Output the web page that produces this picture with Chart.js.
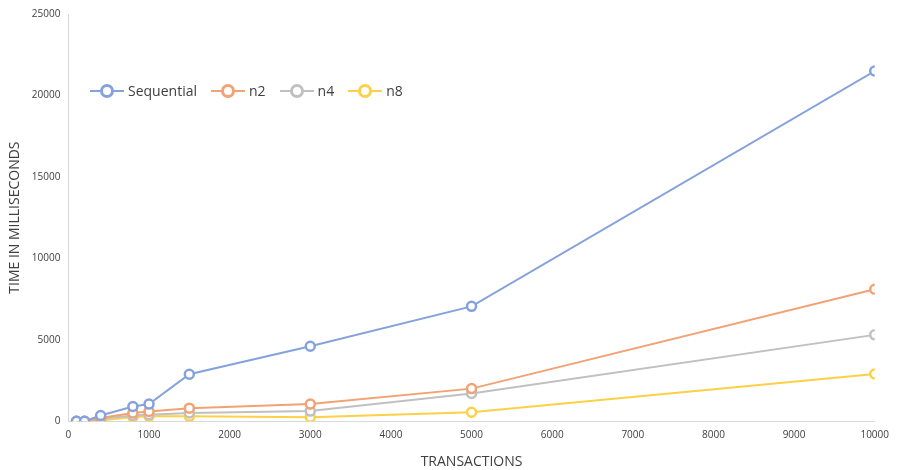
<!DOCTYPE html>
<html>
<head>
<meta charset="utf-8">
<script src="https://cdn.jsdelivr.net/npm/chart.js@4"></script>
<style>
  body { margin: 0; background: #fff; }
  #wrap { position: relative; width: 897px; height: 470px; }
  #legend { position: absolute; left: 90px; top: 81px; display: flex; font-family: "Open Sans", "Liberation Sans", sans-serif; font-size: 14px; color: #404040; }
  .item { display: flex; align-items: center; margin-right: 14px; }
  .mark { position: relative; width: 34px; height: 18px; margin-right: 4px; }
  .mark .ln { position: absolute; left: 0; right: 0; top: 8px; height: 2px; }
  .mark .dot { position: absolute; left: 10px; top: 2px; width: 8px; height: 8px; border-radius: 50%; border: 3px solid; background: #fff; }
</style>
</head>
<body>
<div id="wrap">
  <canvas id="chartCanvas" width="897" height="470"></canvas>
  <div id="legend"></div>
</div>
<script>
const transactions = [100, 200, 400, 800, 1000, 1500, 3000, 5000, 10000];
const sequential = [0, 0, 350, 900, 1050, 2880, 4600, 7050, 21500];
const n2 = [0, 0, 200, 500, 600, 800, 1050, 2000, 8100];
const n4 = [0, 0, 150, 350, 400, 500, 620, 1700, 5300];
const n8 = [0, 0, 50, 250, 300, 300, 250, 550, 2900];
const seriesNames = ["Sequential", "n2", "n4", "n8"];
const seriesColors = ["#85a2dc", "#f2a274", "#c0c0c0", "#fdd048"];
const allSeries = [sequential, n2, n4, n8];

const font = "'Open Sans', 'Liberation Sans', sans-serif";

const datasets = allSeries.map((vals, i) => ({
  label: seriesNames[i],
  data: transactions.map((x, j) => ({ x: x, y: vals[j] })),
  borderColor: seriesColors[i],
  backgroundColor: "#ffffff",
  borderWidth: 2,
  pointRadius: 4.5,
  pointBorderWidth: 2.5,
  pointBackgroundColor: "#ffffff",
  pointBorderColor: seriesColors[i],
  tension: 0
}));

const plain = v => String(v);

const chart = new Chart(document.getElementById("chartCanvas").getContext("2d"), {
  type: "line",
  data: { datasets: datasets },
  options: {
    responsive: false,
    animation: false,
    layout: { padding: { top: 4, right: 0, left: 7, bottom: 0 } },
    plugins: { legend: { display: false }, tooltip: { enabled: false } },
    scales: {
      x: {
        type: "linear",
        min: 0,
        max: 10000,
        ticks: { stepSize: 1000, color: "#404040", font: { family: font, size: 10 }, padding: 8, maxRotation: 0, callback: plain },
        grid: { color: "transparent", drawTicks: false },
        border: { color: "#d9d9d9", width: 1 },
        title: { display: true, text: "TRANSACTIONS", color: "#404040", font: { family: font, size: 14 }, padding: { top: 4, bottom: 0 } }
      },
      y: {
        min: 0,
        max: 25000,
        ticks: { stepSize: 5000, color: "#404040", font: { family: font, size: 10 }, padding: 8, callback: plain },
        grid: { color: "transparent", drawTicks: false },
        border: { color: "#d9d9d9", width: 1 },
        title: { display: true, text: "TIME IN MILLISECONDS", color: "#404040", font: { family: font, size: 14 }, padding: { top: 0, bottom: 0 } }
      }
    }
  }
});

const legend = document.getElementById("legend");
seriesNames.forEach((name, i) => {
  const item = document.createElement("div");
  item.className = "item";
  item.innerHTML = '<span class="mark"><span class="ln" style="background:' + seriesColors[i] +
    '"></span><span class="dot" style="border-color:' + seriesColors[i] + '"></span></span><span>' + name + '</span>';
  legend.appendChild(item);
});
</script>
</body>
</html>
